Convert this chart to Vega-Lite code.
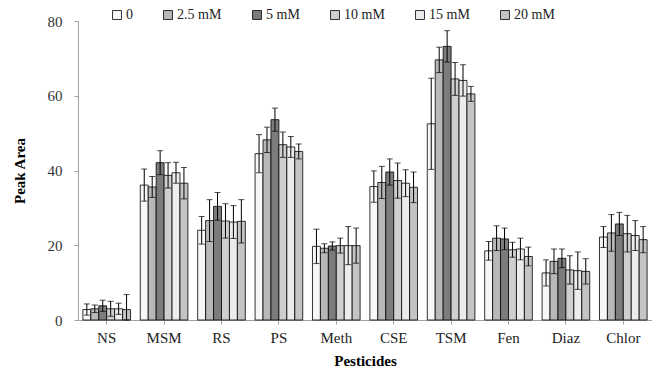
{
  "$schema": "https://vega.github.io/schema/vega-lite/v6.json",
  "width": 574,
  "height": 299,
  "autosize": "none",
  "padding": {"left": 78, "top": 21, "right": 0, "bottom": 53},
  "background": "white",
  "data": {"values": [
    {"p":"NS","c":"0","v":2.8,"lo":1.3,"hi":4.3},
    {"p":"NS","c":"2.5 mM","v":3.0,"lo":2.0,"hi":4.0},
    {"p":"NS","c":"5 mM","v":3.8,"lo":2.3,"hi":5.3},
    {"p":"NS","c":"10 mM","v":3.0,"lo":1.0,"hi":5.0},
    {"p":"NS","c":"15 mM","v":3.0,"lo":1.5,"hi":4.5},
    {"p":"NS","c":"20 mM","v":2.8,"lo":0.0,"hi":6.8},
    {"p":"MSM","c":"0","v":36.1,"lo":31.8,"hi":40.4},
    {"p":"MSM","c":"2.5 mM","v":35.6,"lo":32.8,"hi":38.4},
    {"p":"MSM","c":"5 mM","v":42.1,"lo":38.9,"hi":45.3},
    {"p":"MSM","c":"10 mM","v":38.7,"lo":35.3,"hi":42.1},
    {"p":"MSM","c":"15 mM","v":39.4,"lo":36.6,"hi":42.2},
    {"p":"MSM","c":"20 mM","v":36.6,"lo":32.4,"hi":40.8},
    {"p":"RS","c":"0","v":24.0,"lo":20.3,"hi":27.7},
    {"p":"RS","c":"2.5 mM","v":26.6,"lo":21.0,"hi":32.2},
    {"p":"RS","c":"5 mM","v":30.4,"lo":26.7,"hi":34.1},
    {"p":"RS","c":"10 mM","v":26.5,"lo":21.9,"hi":31.1},
    {"p":"RS","c":"15 mM","v":26.2,"lo":21.8,"hi":30.6},
    {"p":"RS","c":"20 mM","v":26.4,"lo":20.6,"hi":32.2},
    {"p":"PS","c":"0","v":44.5,"lo":39.4,"hi":49.6},
    {"p":"PS","c":"2.5 mM","v":48.2,"lo":44.8,"hi":51.6},
    {"p":"PS","c":"5 mM","v":53.6,"lo":50.5,"hi":56.7},
    {"p":"PS","c":"10 mM","v":46.9,"lo":43.5,"hi":50.3},
    {"p":"PS","c":"15 mM","v":46.3,"lo":43.5,"hi":49.1},
    {"p":"PS","c":"20 mM","v":45.1,"lo":43.1,"hi":47.1},
    {"p":"Meth","c":"0","v":19.7,"lo":15.1,"hi":24.3},
    {"p":"Meth","c":"2.5 mM","v":19.2,"lo":18.0,"hi":20.4},
    {"p":"Meth","c":"5 mM","v":19.8,"lo":18.7,"hi":20.9},
    {"p":"Meth","c":"10 mM","v":19.9,"lo":17.9,"hi":21.9},
    {"p":"Meth","c":"15 mM","v":19.9,"lo":14.8,"hi":25.0},
    {"p":"Meth","c":"20 mM","v":19.9,"lo":15.2,"hi":24.6},
    {"p":"CSE","c":"0","v":35.7,"lo":31.5,"hi":39.9},
    {"p":"CSE","c":"2.5 mM","v":36.8,"lo":32.5,"hi":41.1},
    {"p":"CSE","c":"5 mM","v":39.6,"lo":36.1,"hi":43.1},
    {"p":"CSE","c":"10 mM","v":37.3,"lo":32.6,"hi":42.0},
    {"p":"CSE","c":"15 mM","v":36.6,"lo":33.0,"hi":40.2},
    {"p":"CSE","c":"20 mM","v":35.5,"lo":31.4,"hi":39.6},
    {"p":"TSM","c":"0","v":52.5,"lo":40.3,"hi":64.7},
    {"p":"TSM","c":"2.5 mM","v":69.6,"lo":66.2,"hi":73.0},
    {"p":"TSM","c":"5 mM","v":73.2,"lo":69.0,"hi":77.4},
    {"p":"TSM","c":"10 mM","v":64.5,"lo":60.1,"hi":68.9},
    {"p":"TSM","c":"15 mM","v":64.1,"lo":59.9,"hi":68.3},
    {"p":"TSM","c":"20 mM","v":60.5,"lo":58.5,"hi":62.5},
    {"p":"Fen","c":"0","v":18.5,"lo":16.0,"hi":21.0},
    {"p":"Fen","c":"2.5 mM","v":21.9,"lo":18.6,"hi":25.2},
    {"p":"Fen","c":"5 mM","v":21.7,"lo":18.8,"hi":24.6},
    {"p":"Fen","c":"10 mM","v":18.8,"lo":16.8,"hi":20.8},
    {"p":"Fen","c":"15 mM","v":19.0,"lo":16.1,"hi":21.9},
    {"p":"Fen","c":"20 mM","v":17.0,"lo":14.5,"hi":19.5},
    {"p":"Diaz","c":"0","v":12.6,"lo":9.1,"hi":16.1},
    {"p":"Diaz","c":"2.5 mM","v":15.7,"lo":12.4,"hi":19.0},
    {"p":"Diaz","c":"5 mM","v":16.5,"lo":14.0,"hi":19.0},
    {"p":"Diaz","c":"10 mM","v":13.4,"lo":9.6,"hi":17.2},
    {"p":"Diaz","c":"15 mM","v":13.2,"lo":8.2,"hi":18.2},
    {"p":"Diaz","c":"20 mM","v":13.0,"lo":9.6,"hi":16.4},
    {"p":"Chlor","c":"0","v":22.2,"lo":19.4,"hi":25.0},
    {"p":"Chlor","c":"2.5 mM","v":23.3,"lo":18.4,"hi":28.2},
    {"p":"Chlor","c":"5 mM","v":25.7,"lo":22.6,"hi":28.8},
    {"p":"Chlor","c":"10 mM","v":23.1,"lo":18.2,"hi":28.0},
    {"p":"Chlor","c":"15 mM","v":22.6,"lo":18.6,"hi":26.6},
    {"p":"Chlor","c":"20 mM","v":21.5,"lo":18.0,"hi":25.0}
  ]},
  "encoding": {
    "x": {
      "field": "p", "type": "nominal", "sort": null,
      "scale": {"paddingInner": 0.17, "paddingOuter": 0.085},
      "axis": {
        "title": "Pesticides", "labelAngle": 0, "labelFont": "Liberation Serif", "labelFontSize": 15,
        "labelColor": "#222222", "labelPadding": 6,
        "titleFont": "Liberation Serif", "titleFontSize": 15, "titleFontWeight": "bold", "titleColor": "#000000",
        "titlePadding": 8, "domainColor": "#a0a0a0", "tickColor": "#a0a0a0", "tickSize": 4, "grid": false
      }
    },
    "xOffset": {"field": "c", "type": "nominal", "sort": ["0","2.5 mM","5 mM","10 mM","15 mM","20 mM"], "scale": {"paddingInner": 0, "paddingOuter": 0}}
  },
  "layer": [
    {
      "mark": {"type": "bar", "stroke": "#000000", "strokeWidth": 0.8},
      "encoding": {
        "y": {
          "field": "v", "type": "quantitative",
          "scale": {"domain": [0, 80]},
          "axis": {
            "title": "Peak Area", "values": [0, 20, 40, 60, 80], "grid": false,
            "labelFont": "Liberation Serif", "labelFontSize": 15, "labelColor": "#333333", "labelPadding": 12,
            "titleFont": "Liberation Serif", "titleFontSize": 15, "titleFontWeight": "bold", "titleColor": "#000000",
            "titlePadding": 20, "domainColor": "#a0a0a0", "tickColor": "#a0a0a0", "tickSize": 4
          }
        },
        "fill": {
          "field": "c", "type": "nominal",
          "sort": ["0","2.5 mM","5 mM","10 mM","15 mM","20 mM"],
          "scale": {"domain": ["0","2.5 mM","5 mM","10 mM","15 mM","20 mM"], "range": ["#f7f7f7","#b8b8b8","#7c7c7c","#cfcfcf","#ececec","#c4c4c4"]},
          "legend": {
            "title": null, "orient": "none", "legendX": 32, "legendY": -13, "direction": "horizontal",
            "columns": 6, "gridAlign": "none", "columnPadding": 28,
            "symbolType": "square", "symbolSize": 80, "symbolStrokeColor": "#000000", "symbolStrokeWidth": 0.8,
            "labelFont": "Liberation Serif", "labelFontSize": 14, "labelColor": "#222222", "labelOffset": 2
          }
        }
      }
    },
    {
      "mark": {"type": "rule", "color": "#000000", "strokeWidth": 1},
      "encoding": {"y": {"field": "lo", "type": "quantitative"}, "y2": {"field": "hi"}}
    },
    {
      "mark": {"type": "tick", "color": "#000000", "thickness": 1, "size": 6},
      "encoding": {"y": {"field": "hi", "type": "quantitative"}}
    },
    {
      "mark": {"type": "tick", "color": "#000000", "thickness": 1, "size": 6},
      "encoding": {"y": {"field": "lo", "type": "quantitative"}}
    }
  ],
  "config": {"view": {"stroke": null}}
}
